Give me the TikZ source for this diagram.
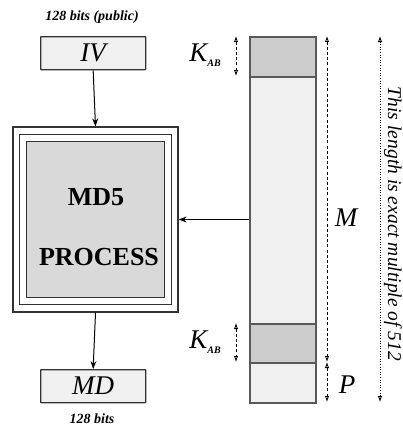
\documentclass[tikz,border=0pt]{standalone}
\usepackage{fontspec}
\setmainfont{Liberation Serif}
\usetikzlibrary{arrows.meta}
\begin{document}
\begin{tikzpicture}[x=1pt,y=-1pt,
  lbox/.style={draw=black!80, line width=1.3pt, fill=gray!12, rounded corners=0.6pt, inner sep=0pt, anchor=north west},
  frame/.style={draw=black!80, line width=1.3pt, inner sep=0pt},
  seg/.style={draw=black!65, line width=1.6pt, inner sep=0pt, anchor=north west, minimum width=66pt},
  arr/.style={-{Stealth[length=8pt,width=6pt]}, line width=1pt},
  dimd/.style={{Latex[open,length=6pt,width=4.5pt]}-{Latex[open,length=6pt,width=4.5pt]}, line width=0.9pt, dash pattern=on 3pt off 2.2pt},
  dimt/.style={{Latex[open,length=6pt,width=4.5pt]}-{Latex[open,length=6pt,width=4.5pt]}, line width=0.9pt, dash pattern=on 1pt off 1.6pt},
  big/.style={font=\fontsize{27}{30}\selectfont\itshape, inner sep=0pt},
  small/.style={font=\fontsize{14}{16}\selectfont\bfseries\itshape, inner sep=0pt},
  proc/.style={font=\fontsize{26}{28}\selectfont\bfseries, inner sep=0pt}]
\useasboundingbox (0,0) rectangle (403,429);

% left column
\node[small] (t1) at (92,17) {128 bits (public)};
\node[lbox, minimum width=105pt, minimum height=33pt] (iv) at (40,36) {};
\node[big] (ivt) at (iv.center) {IV};

\node[frame, minimum width=165pt, minimum height=185pt] (pr) at (95.5,219.5) {};
\node[frame, minimum width=152pt, minimum height=170pt] (pm) at (95.5,219.5) {};
\node[frame, minimum width=138pt, minimum height=156pt, fill=gray!30] (pi) at (95.5,219.5) {};
\node[proc] (l1) at (96,197) {MD5};
\node[proc] (l2) at (99,257) {PROCESS};

\node[lbox, minimum width=105pt, minimum height=33pt] (md) at (40,369) {};
\node[big] (mdt) at (md.center) {MD};
\node[small] (t2) at (92,419) {128 bits};

\draw[arr] (iv.south) -- (pr.north);
\draw[arr] (pr.south) -- (md.north);

% right column
\node[seg, minimum height=40pt, fill=gray!40] (k1) at (249,36) {};
\node[seg, minimum height=247pt, fill=gray!12] (m) at (249,76) {};
\node[seg, minimum height=39pt, fill=gray!40] (k2) at (249,323) {};
\node[seg, minimum height=40pt, fill=gray!12] (p) at (249,362) {};

\draw[arr] (m.west |- pr.east) -- (pr.east);

% dimension marks
\coordinate (a1) at (236,36);
\coordinate (a2) at (236,76);
\coordinate (a3) at (236,323);
\coordinate (a4) at (236,362);
\draw[dimd] (a1) -- (a2);
\draw[dimd] (a3) -- (a4);
\node[big, anchor=east] (ka) at (221,55) {K\raisebox{-5pt}{\fontsize{10}{10}\selectfont\bfseries\itshape AB}};
\node[big, anchor=east] (kb) at (221,342) {K\raisebox{-5pt}{\fontsize{10}{10}\selectfont\bfseries\itshape AB}};

\coordinate (b1) at (327,36);
\coordinate (b2) at (327,362);
\coordinate (b3) at (327,402);
\draw[dimd] (b1) -- (b2);
\draw[dimd] (b2) -- (b3);
\node[big] (ml) at (346,218) {M};
\node[big] (pl) at (347,385) {P};

\coordinate (c1) at (380,36);
\coordinate (c2) at (380,402);
\draw[dimt] (c1) -- (c2);
\node[font=\fontsize{19.5}{22}\selectfont\itshape, inner sep=0pt, rotate=-90] (rt) at (393,224) {This length is exact multiple of 512};
\end{tikzpicture}
\end{document}
